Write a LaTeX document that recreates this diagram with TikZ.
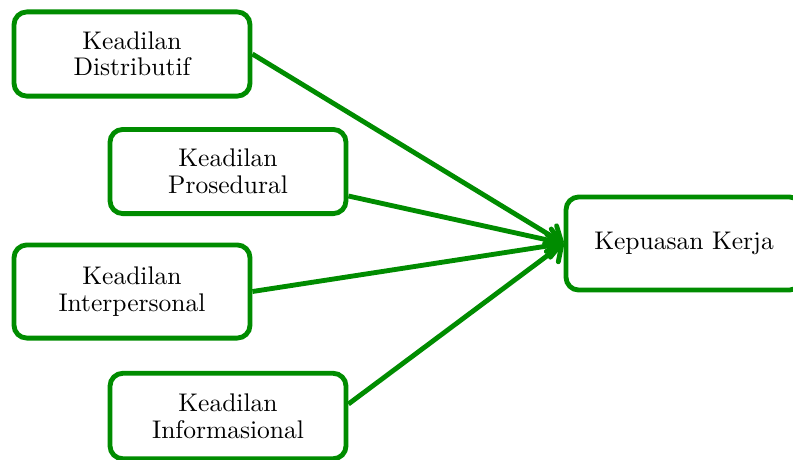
\documentclass[tikz,border=0pt]{standalone}
\usepackage{xcolor}
\usetikzlibrary{arrows,arrows.meta,calc,positioning}
\definecolor{boxgreen}{RGB}{0,140,0}

\begin{document}
\begin{tikzpicture}[x=0.392pt,y=-0.392pt,
		faktor/.style={draw=boxgreen,line width=1.9pt,rounded corners=5pt,align=center,inner sep=0pt,minimum width=92.5pt,minimum height=33pt,font=\fontsize{10}{10.4}\selectfont},
		panah/.style={draw=boxgreen,line width=1.9pt,-{Straight Barb[length=5pt,width=9pt,round]}}]
		\useasboundingbox (0,0) rectangle (793,459);
		\node[faktor] (dist) at (132,54) {Keadilan\\Distributif};
		\node[faktor] (pros) at (228,171.5) {Keadilan\\Prosedural};
		\node[faktor,minimum height=36.5pt] (inter) at (132,291.5) {Keadilan\\Interpersonal};
		\node[faktor,minimum height=33.5pt] (info) at (228,416) {Keadilan\\Informasional};
		\node[faktor,minimum height=36.5pt] (kep) at (684,243.5) {Kepuasan Kerja};
		
		\draw[panah] (dist.east) -- (kep.west);
		\draw[panah] ([yshift=-9.6pt]pros.east) -- (kep.west);
		\draw[panah] (inter.east) -- (kep.west);
		\draw[panah] ([yshift=4.7pt]info.east) -- (kep.west);
	\end{tikzpicture}
\end{document}
